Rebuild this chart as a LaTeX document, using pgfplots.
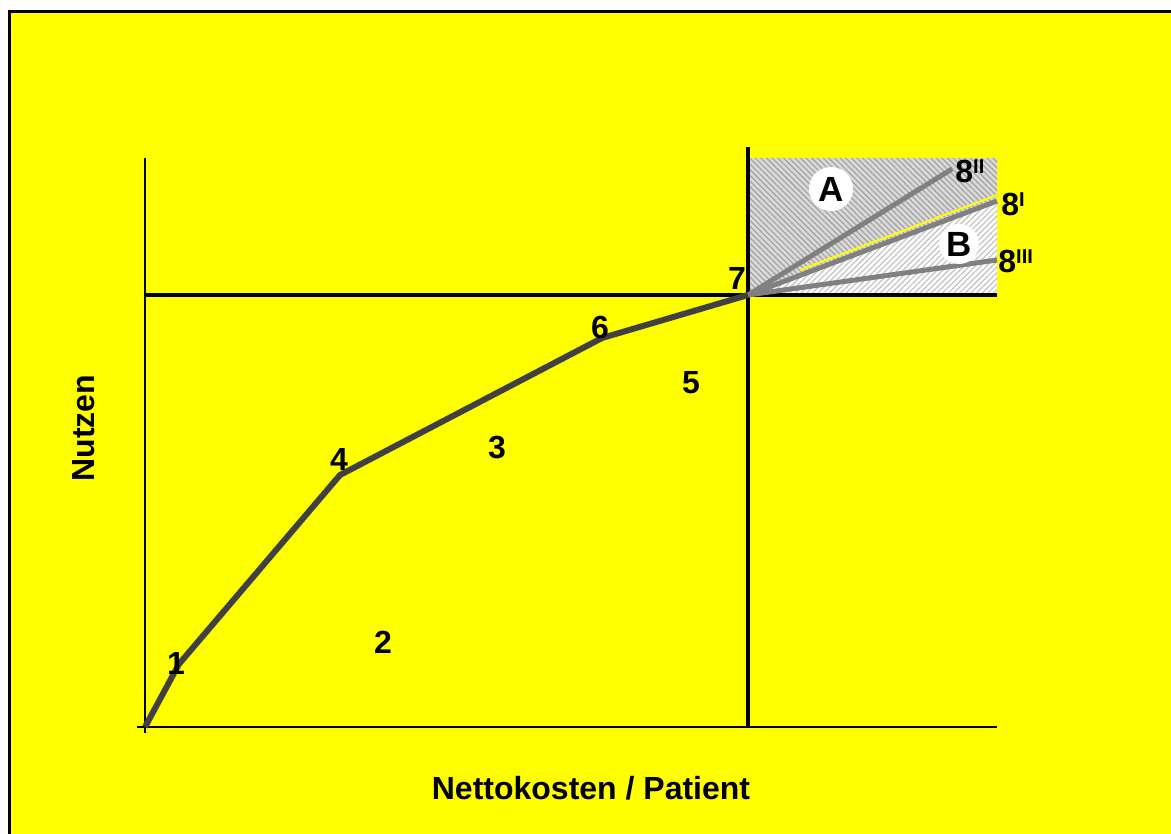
\documentclass[border=0pt]{standalone}
\usepackage{fontspec}
\setmainfont{Liberation Sans}
\usepackage{pgfplots}
\pgfplotsset{compat=1.18}
\usetikzlibrary{patterns.meta}
\definecolor{yel}{RGB}{255,255,0}
\definecolor{curve}{RGB}{64,64,64}
\definecolor{lgray}{RGB}{128,128,128}
\newcommand\lbl{\fontsize{16}{19}\selectfont\bfseries}
\newcommand\supr[1]{\raisebox{0.55ex}{\fontsize{10}{12}\selectfont\bfseries #1}}
\begin{document}
\begin{tikzpicture}
\begin{axis}[width=585.5pt, height=417pt, scale only axis, hide axis,
  xmin=0, xmax=1171, ymin=0, ymax=834, y dir=reverse, clip=true]
% background
\addplot[fill=white, draw=none] coordinates {(0,0) (1171,0) (1171,834) (0,834)} -- cycle;
\addplot[fill=yel, draw=none] coordinates {(8,10) (1171,10) (1171,834) (8,834)} -- cycle;
\addplot[black, line width=1.5pt] coordinates {(9.5,834) (9.5,11.5) (1171,11.5)};
% region A
\addplot[fill=gray!30, draw=none] coordinates {(748,295) (748,158) (997,158) (997,201)} -- cycle;
\addplot[draw=none, pattern={Lines[angle=-45,distance=2pt,line width=0.55pt]}, pattern color=gray!75] coordinates {(748,295) (748,158) (997,158) (997,201)} -- cycle;
% region B
\addplot[fill=white, draw=none] coordinates {(748,295) (997,201) (997,295)} -- cycle;
\addplot[draw=none, pattern={Lines[angle=45,distance=2pt,line width=0.55pt]}, pattern color=gray!50] coordinates {(748,295) (997,201) (997,295)} -- cycle;
% axes
\addplot[black, line width=1pt] coordinates {(145,158) (145,733)};
\addplot[black, line width=1pt] coordinates {(137,727) (997,727)};
\addplot[black, line width=2pt] coordinates {(145,295) (997,295)};
\addplot[black, line width=2pt] coordinates {(748,147) (748,727)};
% lines 8
\addplot[yel, line width=1pt] coordinates {(800,270) (997,195)};
\addplot[lgray, line width=2.5pt] coordinates {(748,295) (997,201)};
\addplot[lgray, line width=2.5pt] coordinates {(748,295) (952,169)};
\addplot[lgray, line width=2.5pt] coordinates {(748,295) (997,260)};
% curve
\addplot[curve, line width=3pt, line join=round] coordinates {(145,727) (179,664) (340,475) (602,338) (748,295)};
% labels
\node[font=\lbl, inner sep=0] at (axis cs:176,663) {1};
\node[font=\lbl, inner sep=0] at (axis cs:383,642) {2};
\node[font=\lbl, inner sep=0] at (axis cs:497,448) {3};
\node[font=\lbl, inner sep=0] at (axis cs:339,459) {4};
\node[font=\lbl, inner sep=0] at (axis cs:691,383) {5};
\node[font=\lbl, inner sep=0] at (axis cs:600,327) {6};
\node[font=\lbl, inner sep=0] at (axis cs:737,278) {7};
\node[font=\lbl, inner sep=0, anchor=west] at (axis cs:955,171) {8\supr{II}};
\node[font=\lbl, inner sep=0, anchor=west] at (axis cs:1001,204) {8\supr{I}};
\node[font=\lbl, inner sep=0, anchor=west] at (axis cs:998,261) {8\supr{III}};
\node[circle, fill=white, minimum size=22pt, inner sep=0, font=\fontsize{17.5}{20}\selectfont\bfseries] at (axis cs:831,189) {A};
\node[circle, fill=white, minimum size=20pt, inner sep=0, font=\fontsize{17.5}{20}\selectfont\bfseries] at (axis cs:959,244) {B};
\node[font=\lbl, rotate=90] at (axis cs:84,428) {Nutzen};
\node[font=\lbl] at (axis cs:591,788) {Nettokosten / Patient};
\end{axis}
\pgfresetboundingbox
\path[use as bounding box] (current axis.south west) rectangle (current axis.north east);
\end{tikzpicture}
\end{document}
